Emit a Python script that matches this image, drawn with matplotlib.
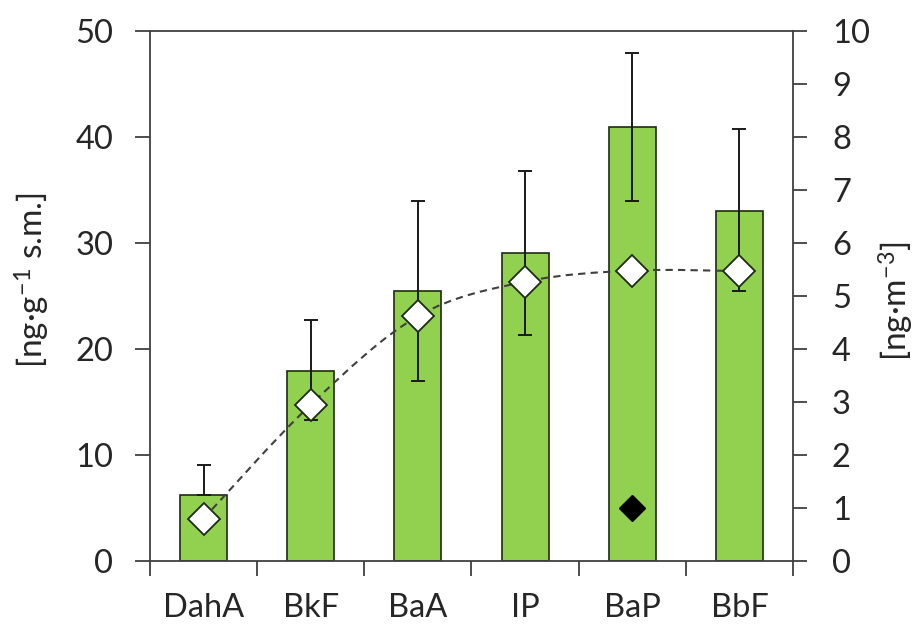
import matplotlib.pyplot as plt
import numpy as np
from matplotlib.path import Path
from matplotlib.patches import PathPatch

plt.rcParams['font.family'] = ['Lato', 'DejaVu Sans']
plt.rcParams['mathtext.default'] = 'regular'

# data
compounds = ['DahA', 'BkF', 'BaA', 'IP', 'BaP', 'BbF']
mass_conc = [6.2, 17.9, 25.5, 29.1, 40.9, 33.0]          # ng/g s.m. (bars)
err_low = [6.2, 13.3, 17.0, 21.3, 34.0, 25.5]            # lower end of error bar
err_high = [9.1, 22.7, 34.0, 36.8, 47.9, 40.8]           # upper end of error bar
air_conc = [0.80, 2.95, 4.62, 5.27, 5.48, 5.47]          # ng/m3 (diamonds)
limit_x = 'BaP'
limit_val = 1.0                                          # black diamond, ng/m3

dark = '#404040'
green = '#92d050'
txt = '#262626'

fig = plt.figure(figsize=(9.23, 6.26), dpi=100)
ax1 = fig.add_axes([150/923, 1 - 561/626, 643/923, 530/626])
ax2 = ax1.twinx()

x = np.arange(len(compounds))
mass_conc = np.array(mass_conc)
yerr = np.array([mass_conc - np.array(err_low), np.array(err_high) - mass_conc])

ax1.bar(x, mass_conc, width=0.44, color=green, edgecolor='#1e2a14', linewidth=1.2, zorder=2)
ax1.errorbar(x, mass_conc, yerr=yerr, fmt='none', ecolor='#1a1a1a',
             elinewidth=1.4, capsize=5, capthick=1.4, zorder=3)

ax1.set_xlim(-0.5, len(compounds) - 0.5)
ax1.set_ylim(0, 50)
ax1.set_yticks(range(0, 51, 10))
ax1.set_xticks(np.arange(-0.5, len(compounds), 1.0))
ax1.set_xticklabels([])
ax1.set_xticks(x, minor=True)
ax1.set_xticklabels(compounds, minor=True)
ax1.tick_params(axis='x', which='major', direction='out', length=10.5, width=1.3, color=dark)
ax1.tick_params(axis='x', which='minor', length=0, pad=23, labelsize=23.5, labelcolor=txt)
ax1.tick_params(axis='y', direction='out', length=10.5, width=1.3, color=dark,
                labelsize=23.5, labelcolor=txt, pad=16)
for s in ax1.spines.values():
    s.set_color(dark)
    s.set_linewidth(1.3)

# smoothed dashed line through diamonds (Catmull-Rom as cubic Bezier)
pts = np.column_stack([x, air_conc])
verts = [pts[0]]
codes = [Path.MOVETO]
for i in range(len(pts) - 1):
    p0 = pts[max(i - 1, 0)]
    p1 = pts[i]
    p2 = pts[i + 1]
    p3 = pts[min(i + 2, len(pts) - 1)]
    verts += [p1 + (p2 - p0) / 6, p2 - (p3 - p1) / 6, p2]
    codes += [Path.CURVE4] * 3
ax2.add_patch(PathPatch(Path(verts, codes), facecolor='none', edgecolor=dark,
                        linewidth=1.5, linestyle=(0, (3.5, 2.5)), zorder=3))
ax2.plot(x, air_conc, linestyle='none', marker='D', markersize=16,
         markerfacecolor='white', markeredgecolor='#1e2a14', markeredgewidth=1.3, zorder=4)
ax2.plot([compounds.index(limit_x)], [limit_val], linestyle='none', marker='D',
         markersize=13, color='black', zorder=4)

ax2.set_ylim(0, 10)
ax2.set_yticks(range(0, 11))
ax2.tick_params(axis='y', direction='out', length=10, width=1.3, color=dark,
                labelsize=23.5, labelcolor=txt, pad=18)
for s in ax2.spines.values():
    s.set_visible(False)

ax1.set_ylabel('[ng·g$^{-1}$ s.m.]', fontsize=24, color=txt)
ax1.yaxis.set_label_coords(-0.153, 0.53)
ax2.set_ylabel('[ng·m$^{-3}$]', fontsize=24, color=txt, rotation=90)
ax2.yaxis.set_label_coords(1.13, 0.49)

fig.savefig('out.png', dpi=100, facecolor='white')
